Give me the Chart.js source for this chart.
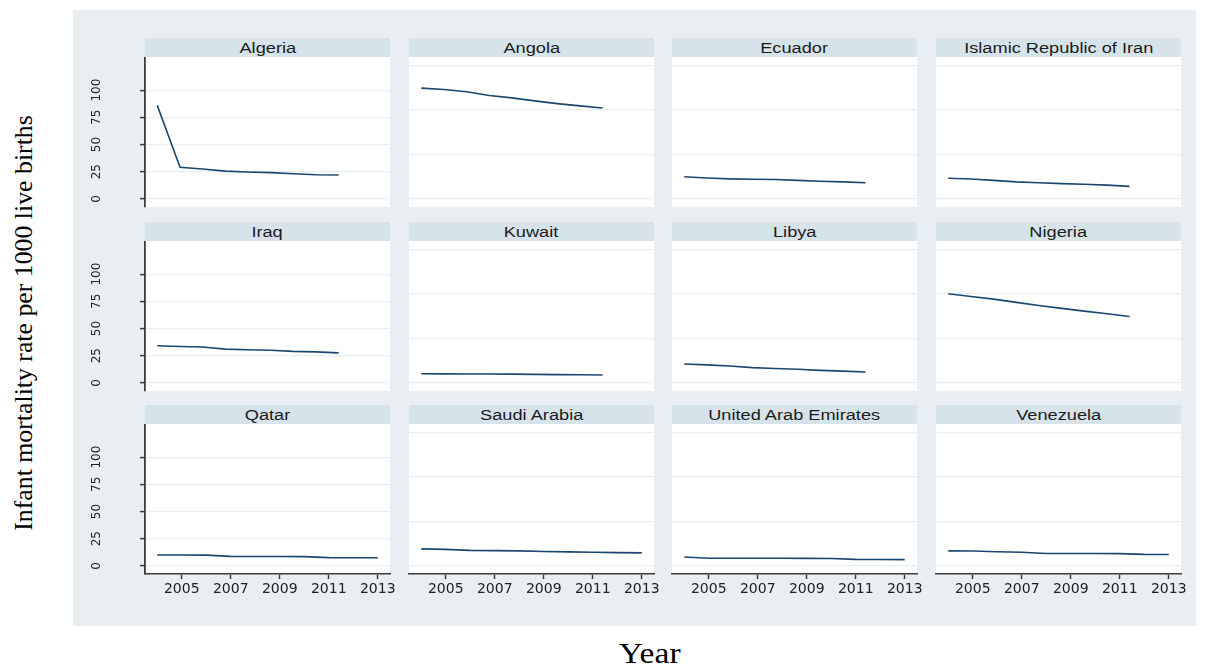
<!DOCTYPE html>
<html><head><meta charset="utf-8">
<script src="https://cdn.jsdelivr.net/npm/chart.js@4/dist/chart.umd.min.js"></script>
<style>
html,body{margin:0;padding:0;background:#fff;}
body{width:1209px;height:665px;position:relative;overflow:hidden;font-family:"Liberation Sans",Arial,sans-serif;}
#bg{position:absolute;left:73px;top:10px;width:1123px;height:616px;background:#e8eef1;}
.strip{position:absolute;height:19px;background:#d7e3ea;text-align:center;font-size:14px;line-height:19px;color:#1b1b1b;overflow:hidden;white-space:nowrap;padding-top:1px;box-sizing:border-box;}
.strip span{display:inline-block;transform:scaleX(1.3);}
canvas{position:absolute;}
#ytitle{position:absolute;left:-196px;top:307.5px;width:440px;height:30px;line-height:30px;text-align:center;font-family:"Liberation Serif","Times New Roman",serif;font-size:25.8px;color:#000;transform:rotate(-90deg);white-space:nowrap;}
#xtitle{position:absolute;left:550px;top:638px;width:200px;height:30px;line-height:30px;text-align:center;font-family:"Liberation Serif","Times New Roman",serif;font-size:30px;color:#000;white-space:nowrap;}
#xtitle span{display:inline-block;transform:scaleX(1.12);}
</style>
</head><body>
<div id="bg"></div>
<div id="ytitle">Infant mortality rate per 1000 live births</div>
<div id="xtitle"><span>Year</span></div>
<script>
// ---- data ----
const countryNames = ["Algeria","Angola","Ecuador","Islamic Republic of Iran","Iraq","Kuwait","Libya","Nigeria","Qatar","Saudi Arabia","United Arab Emirates","Venezuela"];
// x positions of the points as plotted in rows 1-2 and in row 3
const yearsUpper = [2004, 2004.93, 2005.85, 2006.78, 2007.7, 2008.63, 2009.55, 2010.48, 2011.4];
const yearsLower = [2004, 2005, 2006, 2007, 2008, 2009, 2010, 2011, 2012, 2013];
const algeria     = [86.0, 29.0, 27.5, 25.5, 24.7, 24.1, 23.1, 22.2, 21.9];
const angola      = [101.9, 100.6, 98.5, 95.1, 92.9, 90.1, 87.6, 85.5, 83.6];
const ecuador     = [20.4, 19.2, 18.4, 18.0, 17.8, 17.0, 16.2, 15.6, 14.8];
const iran        = [19.0, 18.2, 17.0, 15.6, 14.8, 14.0, 13.4, 12.6, 11.5];
const iraq        = [34.1, 33.5, 33.0, 31.0, 30.5, 30.0, 29.0, 28.5, 27.6];
const kuwait      = [8.4, 8.3, 8.2, 8.1, 8.0, 7.8, 7.6, 7.4, 7.2];
const libya       = [17.4, 16.5, 15.5, 14.0, 13.2, 12.5, 11.5, 10.8, 10.0];
const nigeria     = [82.0, 79.5, 77.0, 74.0, 71.2, 68.5, 66.0, 63.5, 61.0];
const qatar       = [10.0, 10.0, 9.9, 8.7, 8.6, 8.6, 8.5, 7.6, 7.5, 7.4];
const saudiArabia = [15.6, 15.2, 14.2, 14.0, 13.8, 13.2, 12.9, 12.5, 12.2, 11.9];
const uae         = [8.2, 7.0, 7.0, 7.0, 7.0, 6.9, 6.8, 6.0, 5.8, 5.7];
const venezuela   = [13.8, 13.7, 13.0, 12.5, 11.4, 11.3, 11.3, 11.2, 10.6, 10.5];
const yTickValues = [0, 25, 50, 75, 100];
const innerGridValues = [0, 41, 82, 123];
const xTickValues = [2005, 2007, 2009, 2011, 2013];

// ---- layout ----
const panelSeries = [algeria, angola, ecuador, iran, iraq, kuwait, libya, nigeria, qatar, saudiArabia, uae, venezuela];
const colLeft = [145, 409, 672, 936];
const rowTop = [38, 222, 405];
const stripH = 19, plotW = 245, plotH = 150;
const yMin = -7.5, yMax = 130.5, xMin = 2003.5, xMax = 2013.5;
const axisColor = '#3c3c3c', gridColor = '#e7eef1', lineColor = '#1a476f';
const YW = 60, XH = 30, PAD = 25, PB = 10;

const whiteArea = {
  id: 'whiteArea',
  beforeDraw(chart) {
    const a = chart.chartArea, c = chart.ctx;
    c.save(); c.fillStyle = '#ffffff';
    c.fillRect(a.left, a.top, a.right - a.left, a.bottom - a.top);
    c.restore();
  }
};

panelSeries.forEach((vals, i) => {
  const r = Math.floor(i / 4), c = i % 4;
  const showY = c === 0, showX = r === 2;
  const xs = showX ? yearsLower : yearsUpper;

  const strip = document.createElement('div');
  strip.className = 'strip';
  strip.style.left = colLeft[c] + 'px';
  strip.style.top = rowTop[r] + 'px';
  strip.style.width = plotW + 'px';
  const sp = document.createElement('span');
  sp.textContent = countryNames[i];
  strip.appendChild(sp);
  document.body.appendChild(strip);

  const padL = showY ? 0 : PAD;
  const yw = showY ? YW : 0;
  const padB = showX ? 0 : PB;
  const cw = padL + yw + plotW + PAD;
  const ch = plotH + (showX ? XH : padB);
  const cv = document.createElement('canvas');
  cv.width = cw; cv.height = ch;
  cv.style.left = (colLeft[c] - padL - yw) + 'px';
  cv.style.top = (rowTop[r] + stripH) + 'px';
  cv.style.width = cw + 'px'; cv.style.height = ch + 'px';
  document.body.appendChild(cv);

  new Chart(cv, {
    type: 'line',
    data: {
      datasets: [{
        data: xs.map((x, k) => ({ x: x, y: vals[k] })),
        borderColor: lineColor, borderWidth: 1.6, pointRadius: 0, tension: 0, fill: false
      }]
    },
    options: {
      responsive: false, animation: false, devicePixelRatio: 1,
      layout: { padding: { left: padL, right: PAD, top: 0, bottom: padB } },
      plugins: { legend: { display: false }, tooltip: { enabled: false }, title: { display: false } },
      scales: {
        x: {
          type: 'linear', min: xMin, max: xMax, display: showX,
          afterBuildTicks: s => { s.ticks = xTickValues.map(v => ({ value: v })); },
          afterFit: s => { s.height = showX ? XH : 0; s.paddingLeft = 0; s.paddingRight = 0; },
          grid: { drawOnChartArea: false, drawTicks: true, tickLength: 5, tickColor: axisColor, tickWidth: 1.5 },
          border: { display: true, color: axisColor, width: 1.6 },
          ticks: { autoSkip: false, minRotation: 0, maxRotation: 0, padding: 2,
                   font: { family: 'DejaVu Sans', size: 14 }, color: '#222',
                   callback: v => String(v) }
        },
        y: {
          type: 'linear', min: yMin, max: yMax, display: true,
          afterBuildTicks: s => { s.ticks = (showY ? yTickValues : innerGridValues).map(v => ({ value: v })); },
          afterFit: s => { s.width = yw; s.paddingTop = 0; s.paddingBottom = 0; },
          grid: { color: gridColor, lineWidth: 1.2, drawTicks: showY, tickLength: 5, tickColor: axisColor, tickWidth: 1.5 },
          border: { display: showY, color: axisColor, width: 1.8 },
          ticks: { display: showY, minRotation: 90, maxRotation: 90, crossAlign: 'center', padding: 32,
                   font: { family: 'DejaVu Sans', size: 12 }, color: '#222',
                   callback: v => String(v) }
        }
      }
    },
    plugins: [whiteArea]
  });
});
</script>
</body></html>
